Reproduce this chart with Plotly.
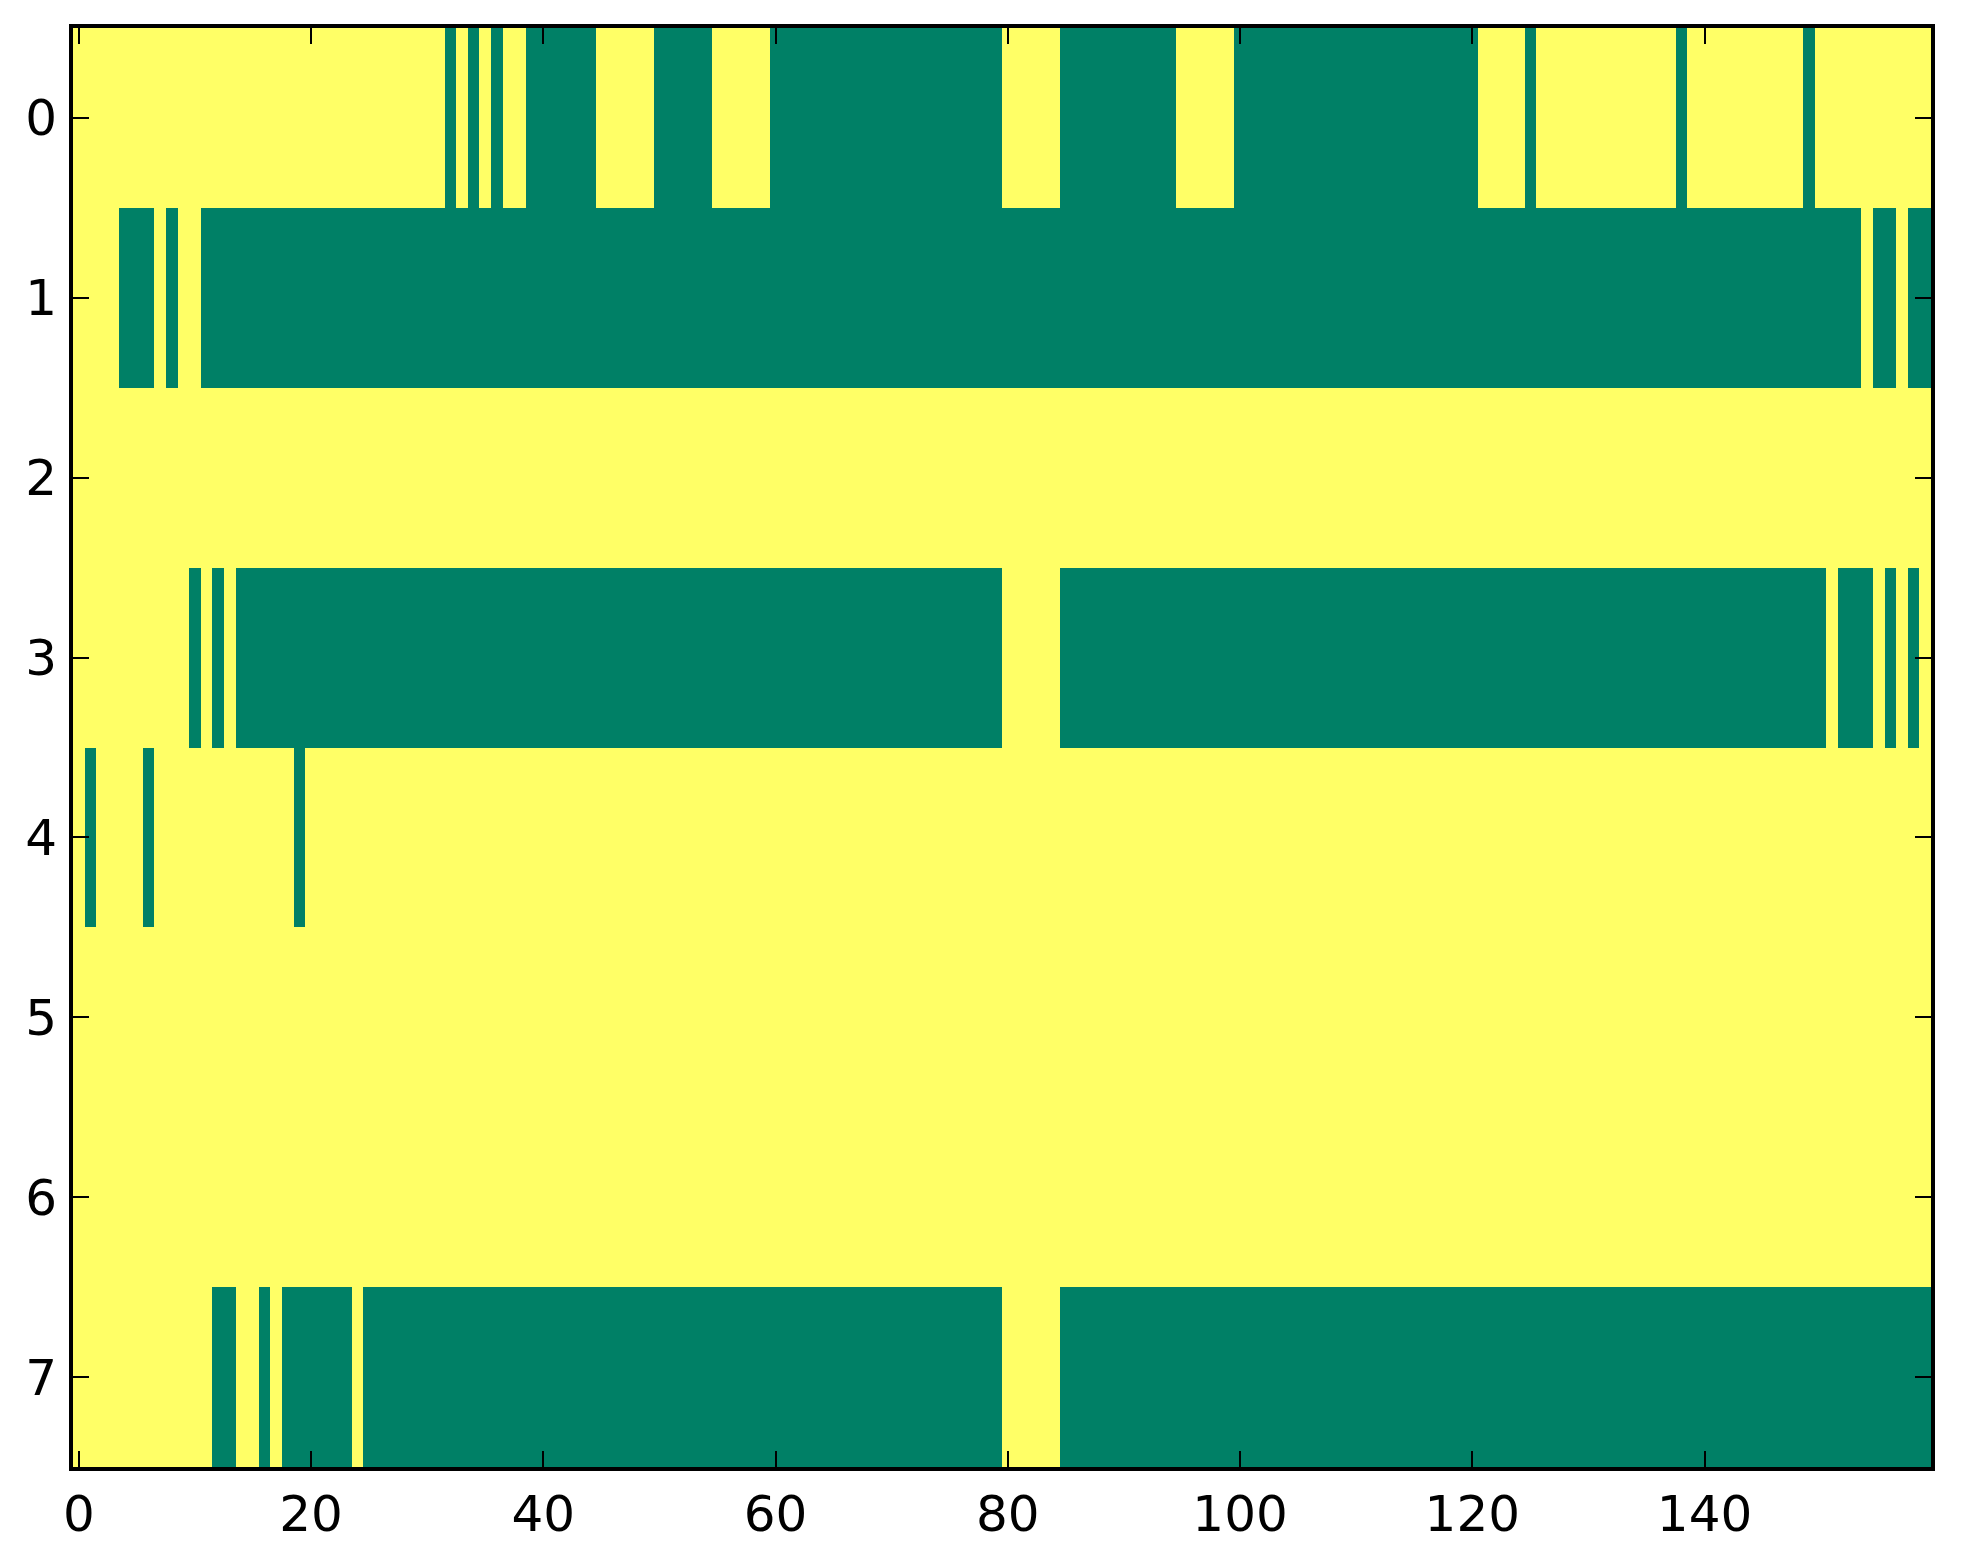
import plotly.graph_objects as go

# cell values, one string per row, 1 = yellow, 0 = green (summer colormap)
ROW_0 = "1111111111 1111111111 1111111111 1101010110 0000011111 0000011111 0000000000 0000000000 1111100000 0000011111 0000000000 0000000000 0111101111 1111111101 1111111110 1111111111"
ROW_1 = "1111000101 1000000000 0000000000 0000000000 0000000000 0000000000 0000000000 0000000000 0000000000 0000000000 0000000000 0000000000 0000000000 0000000000 0000000000 0000100100"
ROW_2 = "1111111111 1111111111 1111111111 1111111111 1111111111 1111111111 1111111111 1111111111 1111111111 1111111111 1111111111 1111111111 1111111111 1111111111 1111111111 1111111111"
ROW_3 = "1111111111 0101000000 0000000000 0000000000 0000000000 0000000000 0000000000 0000000000 1111100000 0000000000 0000000000 0000000000 0000000000 0000000000 0000000000 0100010101"
ROW_4 = "1011110111 1111111110 1111111111 1111111111 1111111111 1111111111 1111111111 1111111111 1111111111 1111111111 1111111111 1111111111 1111111111 1111111111 1111111111 1111111111"
ROW_5 = "1111111111 1111111111 1111111111 1111111111 1111111111 1111111111 1111111111 1111111111 1111111111 1111111111 1111111111 1111111111 1111111111 1111111111 1111111111 1111111111"
ROW_6 = "1111111111 1111111111 1111111111 1111111111 1111111111 1111111111 1111111111 1111111111 1111111111 1111111111 1111111111 1111111111 1111111111 1111111111 1111111111 1111111111"
ROW_7 = "1111111111 1100110100 0000100000 0000000000 0000000000 0000000000 0000000000 0000000000 1111100000 0000000000 0000000000 0000000000 0000000000 0000000000 0000000000 0000000000"

ROWS = [ROW_0, ROW_1, ROW_2, ROW_3, ROW_4, ROW_5, ROW_6, ROW_7]
X_TICKS = [0, 20, 40, 60, 80, 100, 120, 140]
Y_TICKS = [0, 1, 2, 3, 4, 5, 6, 7]

SUMMER = [[0.0, '#008066'], [1.0, '#ffff66']]


def parse_row(text):
    return [int(ch) for ch in text.replace(' ', '')]


z = [parse_row(r) for r in ROWS]
n_cols = len(z[0])

fig = go.Figure(
    go.Heatmap(
        z=z,
        x=list(range(n_cols)),
        y=list(range(len(z))),
        colorscale=SUMMER,
        zmin=0,
        zmax=1,
        showscale=False,
        hoverinfo='skip',
    )
)

axis_style = dict(
    showline=True,
    linecolor='black',
    linewidth=4,
    mirror='ticks',
    ticks='inside',
    ticklen=16,
    tickwidth=2,
    tickcolor='black',
    showgrid=False,
    zeroline=False,
)

fig.update_xaxes(
    range=[-0.5, n_cols - 0.5],
    tickmode='array',
    tickvals=X_TICKS,
    ticktext=[str(v) for v in X_TICKS],
    ticklabelstandoff=0,
    **axis_style,
)
fig.update_yaxes(
    range=[len(z) - 0.5, -0.5],
    tickmode='array',
    tickvals=Y_TICKS,
    ticktext=[str(v) for v in Y_TICKS],
    ticklabelstandoff=2,
    **axis_style,
)

# the page body adds 8px around the figure, so margins are trimmed by that
fig.update_layout(
    width=1955,
    height=1556,
    margin=dict(l=65, r=32, t=20, b=97),
    paper_bgcolor='white',
    plot_bgcolor='white',
    font=dict(family='DejaVu Sans', size=50, color='black'),
)

fig.write_html("out.html")
